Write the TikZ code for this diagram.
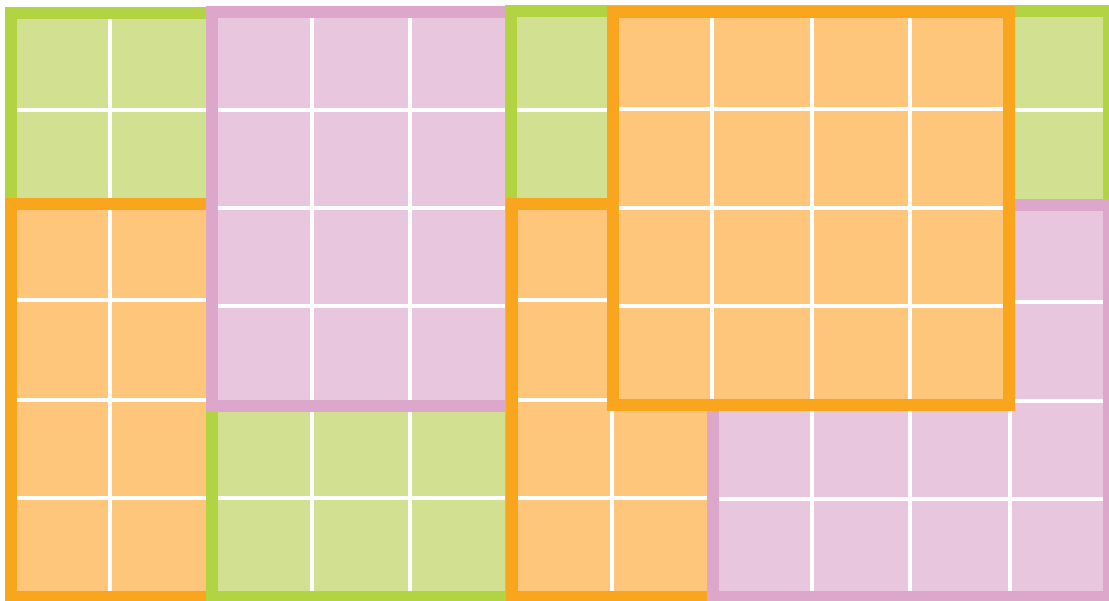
\documentclass[tikz,border=0pt]{standalone}
\definecolor{greenedge}{RGB}{179,212,66}
\definecolor{greenbg}{RGB}{210,225,145}
\definecolor{orangeedge}{RGB}{249,166,30}
\definecolor{orangebg}{RGB}{254,198,122}
\definecolor{pinkedge}{RGB}{220,167,203}
\definecolor{pinkbg}{RGB}{232,199,222}

% one tile: colour, corners (x1,y1) (x2,y2), grid lines in x and in y
\newcommand{\drawtile}[7]{%
  \fill[#1bg] (#2,#3) rectangle (#4,#5);
  \foreach \gx in {#6} \draw[gridline] (\gx,#3) -- (\gx,#5);
  \foreach \gy in {#7} \draw[gridline] (#2,\gy) -- (#4,\gy);
  \draw[tileedge, draw=#1edge] ({#2+6},{#3+6}) rectangle ({#4-6},{#5-6});
}

\begin{document}
\begin{tikzpicture}[
			x=0.01cm, y=-0.01cm,
			gridline/.style={white, line width=0.035cm},
			tileedge/.style={line width=0.12cm}
			]
			\useasboundingbox (0,0) rectangle (1109,601);
			\clip (0,0) rectangle (1109,601);
			
			\drawtile{green}{5}{7}{218}{210}{110}{110}
			\drawtile{orange}{5}{198}{218}{603}{110}{300,400,498}
			\drawtile{green}{206}{398}{517}{603}{312,410}{498}
			\drawtile{pink}{206}{6}{517}{412}{312,410}{110,208,306}
			\drawtile{green}{505}{5}{1115}{211}{612,712,812,910,1010}{110}
			\drawtile{orange}{506}{198}{719}{603}{612}{300,400,498}
			\drawtile{pink}{707}{199}{1115}{603}{812,910,1010}{302,401,499}
			\drawtile{orange}{607}{6}{1015}{411}{712,812,910}{109,208,306}
		\end{tikzpicture}
\end{document}
